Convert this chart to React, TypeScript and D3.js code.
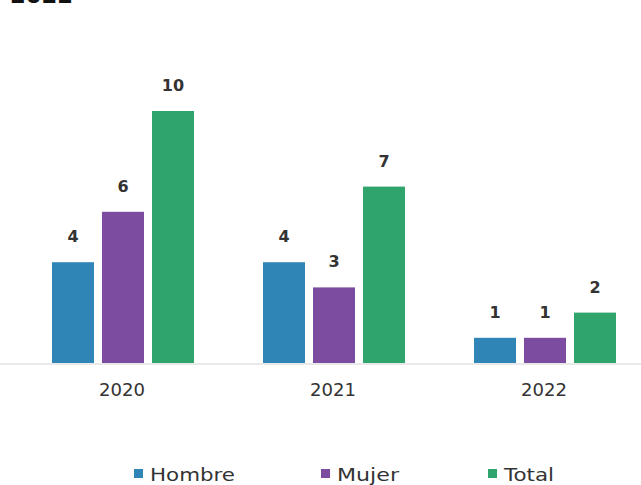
import { scaleBand, scaleLinear } from "d3";

const years = ["2020", "2021", "2022"];
const series = ["Hombre", "Mujer", "Total"];
const hombre = [4, 4, 1];
const mujer = [6, 3, 1];
const total = [10, 7, 2];
const colors = ["#2f86b6", "#7b4c9f", "#2fa46c"];

const values = [hombre, mujer, total];

// approximate rendered widths of the legend labels in the original (wide font)
const legendWidths = [89, 66, 54];

export default function App() {
  const width = 641;
  const height = 485;
  const baseY = 363;

  const x0 = scaleBand().domain(years).range([17.5, 650.5]).padding(0);
  const x1 = scaleBand()
    .domain(series)
    .range([34.5, 176.5])
    .paddingInner(0.16)
    .paddingOuter(0);
  const y = scaleLinear().domain([0, 10]).range([baseY, 111]);

  const legendX = [134, 321, 488];

  return (
    <svg
      width={width}
      height={height}
      style={{ position: "absolute", left: 0, top: 0, background: "#fff" }}
      fontFamily="'DejaVu Sans', sans-serif"
    >
      <text x={10} y={3} fontSize={22} fontWeight={700} fill="#111" textLength={63} lengthAdjust="spacingAndGlyphs">
        2022
      </text>
      <line x1={0} x2={width} y1={baseY + 1} y2={baseY + 1} stroke="#e2e2e2" strokeWidth={1.5} />
      {years.map((yr, i) => (
        <g key={yr} transform={`translate(${x0(yr)},0)`}>
          {series.map((s, j) => {
            const v = values[j][i];
            const bx = x1(s) as number;
            return (
              <g key={s}>
                <rect
                  x={bx}
                  y={y(v)}
                  width={x1.bandwidth()}
                  height={baseY - y(v)}
                  fill={colors[j]}
                />
                <text
                  x={bx + x1.bandwidth() / 2}
                  y={y(v) - 20}
                  textAnchor="middle"
                  fontSize={16}
                  fontWeight={600}
                  fill="#333"
                >
                  {v}
                </text>
              </g>
            );
          })}
          <text
            x={x0.bandwidth() / 2 - 1}
            y={396}
            textAnchor="middle"
            fontSize={18}
            fill="#333"
            textLength={46}
            lengthAdjust="spacingAndGlyphs"
          >
            {yr}
          </text>
        </g>
      ))}
      {series.map((s, j) => (
        <g key={s} transform={`translate(${legendX[j]},0)`}>
          <rect x={0} y={469} width={9} height={9} fill={colors[j]} />
          <text
            x={16}
            y={481}
            fontSize={18}
            fill="#333"
            textLength={legendWidths[j] - 4}
            lengthAdjust="spacingAndGlyphs"
          >
            {s}
          </text>
        </g>
      ))}
    </svg>
  );
}
